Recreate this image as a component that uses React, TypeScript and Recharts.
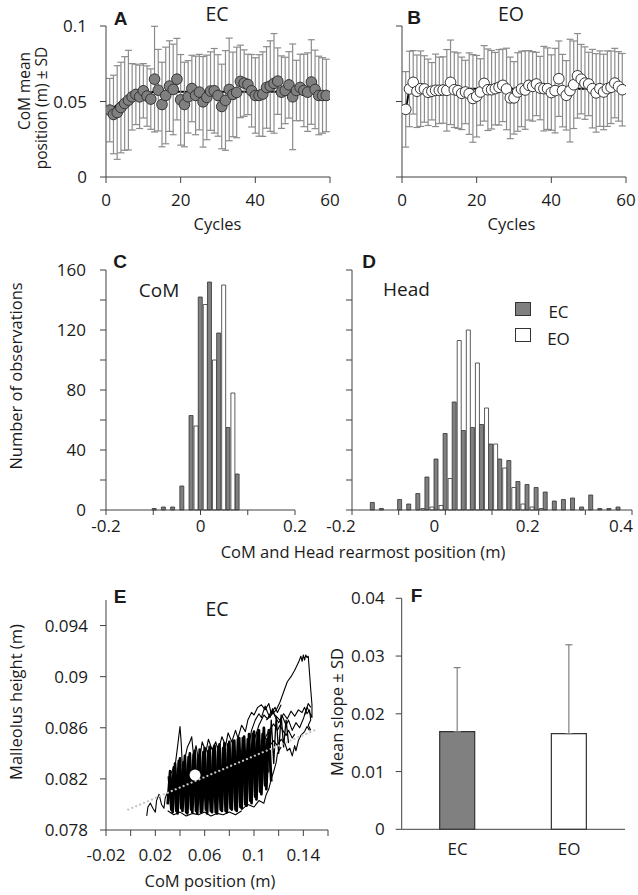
import React from "react";
import {
  ComposedChart,
  ScatterChart,
  BarChart,
  Bar,
  Line,
  Scatter,
  XAxis,
  YAxis,
  ErrorBar,
  Cell,
} from "recharts";

const FONT = "'Open Sans', sans-serif";
const BOLD = "'Liberation Sans', Arial, sans-serif";
const AX = "#404040";
const TXT = "#1a1a1a";

// ---- panels A / B : CoM mean position per cycle ----
const cycles = [
  1, 2, 3, 4, 5, 6, 7, 8, 9, 10, 11, 12, 13, 14, 15, 16, 17, 18, 19, 20,
  21, 22, 23, 24, 25, 26, 27, 28, 29, 30, 31, 32, 33, 34, 35, 36, 37, 38, 39, 40,
  41, 42, 43, 44, 45, 46, 47, 48, 49, 50, 51, 52, 53, 54, 55, 56, 57, 58, 59,
];
const ecMean = [
  0.0443, 0.0414, 0.0427, 0.046, 0.0487, 0.0509, 0.0531, 0.0547, 0.0531, 0.0571,
  0.0536, 0.0516, 0.0648, 0.0575, 0.048, 0.054, 0.0602, 0.058, 0.0648, 0.0511,
  0.048, 0.0531, 0.0586, 0.054, 0.0562, 0.0498, 0.0527, 0.0569, 0.0571, 0.054,
  0.0467, 0.0507, 0.058, 0.0547, 0.056, 0.0633, 0.0622, 0.0613, 0.0571, 0.054,
  0.054, 0.0549, 0.0593, 0.0602, 0.062, 0.0635, 0.0562, 0.0573, 0.061, 0.0531,
  0.0573, 0.0593, 0.0573, 0.0562, 0.0629, 0.058, 0.054, 0.054, 0.054,
];
const ecSd = [
  0.021, 0.026, 0.031, 0.03, 0.031, 0.033, 0.022, 0.02, 0.021, 0.018,
  0.02, 0.02, 0.035, 0.027, 0.028, 0.032, 0.03, 0.03, 0.027, 0.03,
  0.028, 0.024, 0.022, 0.026, 0.025, 0.03, 0.028, 0.026, 0.028, 0.027,
  0.028, 0.033, 0.034, 0.028, 0.03, 0.024, 0.022, 0.02, 0.024, 0.025,
  0.027, 0.028, 0.027, 0.03, 0.033, 0.022, 0.024, 0.022, 0.022, 0.035,
  0.02, 0.022, 0.024, 0.026, 0.028, 0.026, 0.026, 0.025, 0.024,
];
const ecFit = [
  0.0425, 0.0455, 0.048, 0.05, 0.0517, 0.053, 0.054, 0.0547, 0.0553, 0.0557,
  0.056, 0.0562, 0.0564, 0.0564, 0.0564, 0.0564, 0.0564, 0.0564, 0.0564, 0.0564,
  0.0564, 0.0564, 0.0564, 0.0564, 0.0564, 0.0564, 0.0564, 0.0564, 0.0564, 0.0564,
  0.0564, 0.0564, 0.0564, 0.0564, 0.0564, 0.0564, 0.0564, 0.0564, 0.0564, 0.0564,
  0.0564, 0.0564, 0.0564, 0.0564, 0.0564, 0.0564, 0.0564, 0.0564, 0.0564, 0.0564,
  0.0564, 0.0564, 0.0564, 0.0564, 0.0564, 0.0564, 0.0564, 0.0564, 0.0564,
];
const eoMean = [
  0.0448, 0.0583, 0.0627, 0.0568, 0.0585, 0.0583, 0.0561, 0.0568, 0.0574, 0.0574,
  0.0576, 0.0574, 0.0627, 0.0578, 0.0572, 0.0554, 0.0563, 0.0552, 0.052, 0.0535,
  0.0563, 0.062, 0.0578, 0.0578, 0.0585, 0.0594, 0.0607, 0.0583, 0.0524, 0.0524,
  0.0563, 0.0583, 0.0576, 0.0607, 0.06, 0.0616, 0.0589, 0.0585, 0.0585, 0.0559,
  0.0572, 0.0651, 0.0572, 0.0541, 0.0572, 0.0611, 0.067, 0.0648, 0.0622, 0.0616,
  0.0585, 0.0557, 0.0585, 0.0563, 0.0585, 0.0594, 0.0622, 0.06, 0.0578,
];
const eoSd = [
  0.025, 0.025, 0.021, 0.024, 0.025, 0.022, 0.022, 0.019, 0.024, 0.022,
  0.022, 0.027, 0.028, 0.025, 0.025, 0.024, 0.021, 0.027, 0.029, 0.027,
  0.022, 0.025, 0.027, 0.026, 0.024, 0.025, 0.024, 0.027, 0.027, 0.024,
  0.026, 0.025, 0.026, 0.023, 0.023, 0.021, 0.021, 0.028, 0.027, 0.025,
  0.028, 0.025, 0.024, 0.023, 0.034, 0.029, 0.028, 0.023, 0.024, 0.021,
  0.026, 0.026, 0.025, 0.025, 0.025, 0.024, 0.023, 0.023, 0.024,
];
const eoFit = [
  0.0448, 0.0583, 0.0585, 0.0585, 0.0585, 0.0585, 0.0585, 0.0585, 0.0585, 0.0585,
  0.0585, 0.0585, 0.0585, 0.0585, 0.0585, 0.0585, 0.0585, 0.0585, 0.0585, 0.0585,
  0.0585, 0.0585, 0.0585, 0.0585, 0.0585, 0.0585, 0.0585, 0.0585, 0.0585, 0.0585,
  0.0585, 0.0585, 0.0585, 0.0585, 0.0585, 0.0585, 0.0585, 0.0585, 0.0585, 0.0585,
  0.0585, 0.0585, 0.0585, 0.0585, 0.0585, 0.0585, 0.0585, 0.0585, 0.0585, 0.0585,
  0.0585, 0.0585, 0.0585, 0.0585, 0.0585, 0.0585, 0.0585, 0.0585, 0.0585,
];
const cycleTicks = [0, 20, 40, 60];
const posTicks = [0, 0.05, 0.1];

// ---- panels C / D : histograms of rearmost position ----
const comBins = [-0.0925, -0.073, -0.0535, -0.034, -0.0145, 0.005, 0.0245, 0.044, 0.0635, 0.083];
const comEC = [1, 2, 2, 16, 63, 142, 152, 118, 55, 24];
const comEO = [0, 0, 0, 0, 56, 137, 100, 150, 78, 0];

const headBins = [
  -0.151, -0.1315, -0.112, -0.0925, -0.073, -0.0535, -0.034, -0.0145, 0.005, 0.0245,
  0.044, 0.0635, 0.083, 0.1025, 0.122, 0.1415, 0.161, 0.1805, 0.2, 0.2195,
  0.239, 0.2585, 0.278, 0.2975, 0.317, 0.3365, 0.356, 0.3755,
];
const headEC = [5, 1, 0, 7, 4, 11, 22, 34, 51, 72, 53, 55, 57, 44, 34, 33, 19, 17, 15, 12, 6, 7, 8, 2, 10, 1, 1, 2];
const headEO = [0, 0, 0, 0, 0, 1, 2, 3, 21, 113, 120, 98, 68, 44, 28, 15, 4, 2, 1, 0, 0, 0, 0, 0, 0, 0, 0, 0];

const countTicks = [0, 20, 40, 60, 80, 100, 120, 140, 160];
const comTicks = [-0.2, -0.1, 0, 0.1, 0.2];
const headTicks = [-0.2, -0.1, 0, 0.1, 0.2, 0.3, 0.4];
const histLabels = [-0.2, 0, 0.2, 0.4];

// ---- panel E : malleolus height vs CoM position (EC) ----
const trajCore = [
  [0.03, 0.08], [0.032, 0.0826], [0.034, 0.0794], [0.036, 0.0832], [0.038, 0.0793],
  [0.04, 0.0836], [0.042, 0.0795], [0.044, 0.0838], [0.046, 0.0793], [0.048, 0.084],
  [0.05, 0.0794], [0.052, 0.0842], [0.054, 0.0793], [0.056, 0.0843], [0.058, 0.0795],
  [0.06, 0.0844], [0.062, 0.0793], [0.064, 0.0845], [0.066, 0.0794], [0.068, 0.0846],
  [0.07, 0.0793], [0.072, 0.0847], [0.074, 0.0795], [0.076, 0.0848], [0.078, 0.0794],
  [0.08, 0.0849], [0.082, 0.0796], [0.084, 0.085], [0.086, 0.0795], [0.088, 0.0852],
  [0.09, 0.0797], [0.092, 0.0853], [0.094, 0.0799], [0.096, 0.0855], [0.098, 0.0801],
  [0.1, 0.0857], [0.102, 0.0804], [0.104, 0.0858], [0.106, 0.0808], [0.108, 0.086],
  [0.11, 0.0812], [0.112, 0.0858], [0.114, 0.0818],
];
const trajCore2 = [
  [0.031, 0.0822], [0.033, 0.0796], [0.035, 0.0829], [0.037, 0.0795], [0.039, 0.0834],
  [0.041, 0.0797], [0.043, 0.0833], [0.045, 0.0794], [0.047, 0.0837], [0.049, 0.0796],
  [0.051, 0.0839], [0.053, 0.0795], [0.055, 0.0838], [0.057, 0.0794], [0.059, 0.0841],
  [0.061, 0.0796], [0.063, 0.0842], [0.065, 0.0795], [0.067, 0.0843], [0.069, 0.0794],
  [0.071, 0.0845], [0.073, 0.0796], [0.075, 0.0844], [0.077, 0.0795], [0.079, 0.0847],
  [0.081, 0.0797], [0.083, 0.0849], [0.085, 0.0796], [0.087, 0.0851], [0.089, 0.0798],
  [0.091, 0.0852], [0.093, 0.08], [0.095, 0.0851], [0.097, 0.0803], [0.099, 0.0855],
  [0.101, 0.0806], [0.103, 0.0856], [0.105, 0.081], [0.107, 0.0855], [0.109, 0.0815],
  [0.111, 0.0852],
];
const trajCore3 = [
  [0.112, 0.0825], [0.114, 0.0866], [0.116, 0.0832], [0.118, 0.0869], [0.12, 0.084],
  [0.122, 0.087], [0.124, 0.0845], [0.126, 0.0866], [0.128, 0.0848],
];
const trajLowLeft = [
  [0.013, 0.0791], [0.014, 0.0798], [0.016, 0.0801], [0.018, 0.0797], [0.02, 0.0794],
  [0.021, 0.0803], [0.023, 0.0808], [0.025, 0.08], [0.027, 0.0797], [0.028, 0.0805],
  [0.031, 0.0812], [0.033, 0.0818], [0.032, 0.0823], [0.035, 0.0829],
];
const trajSpikes = [
  [0.034, 0.0812], [0.036, 0.083], [0.038, 0.0845], [0.04, 0.0861], [0.041, 0.0848],
  [0.042, 0.0828], [0.044, 0.0836], [0.046, 0.0845], [0.048, 0.0849], [0.0495, 0.0853],
  [0.051, 0.0838], [0.053, 0.0846], [0.055, 0.0835],
];
const trajUpper = [
  [0.056, 0.0836], [0.058, 0.0849], [0.061, 0.0841], [0.063, 0.0851], [0.066, 0.0843],
  [0.069, 0.0849], [0.071, 0.0842], [0.074, 0.0853], [0.077, 0.0846], [0.079, 0.0856],
  [0.082, 0.0849], [0.085, 0.0858], [0.087, 0.0852], [0.09, 0.0862], [0.093, 0.0857],
  [0.095, 0.0866], [0.098, 0.0872], [0.1, 0.087], [0.103, 0.0876], [0.106, 0.0878],
  [0.109, 0.0874], [0.112, 0.0879], [0.114, 0.0871], [0.117, 0.0876], [0.119, 0.0872],
  [0.122, 0.0878],
];
const trajTopArm = [
  [0.11, 0.0866], [0.114, 0.087], [0.118, 0.0874], [0.121, 0.088], [0.124, 0.0888],
  [0.127, 0.0896], [0.13, 0.09], [0.133, 0.0905], [0.136, 0.0911], [0.138, 0.0916],
  [0.139, 0.0912], [0.14, 0.0917], [0.141, 0.0913], [0.142, 0.0917], [0.143, 0.0915],
  [0.144, 0.0916], [0.145, 0.0903], [0.146, 0.089], [0.147, 0.0878], [0.147, 0.0868],
  [0.145, 0.0872], [0.143, 0.0876], [0.141, 0.087],
];
const trajRightMid = [
  [0.1, 0.085], [0.104, 0.0862], [0.108, 0.087], [0.111, 0.0867], [0.114, 0.0873],
  [0.118, 0.0869], [0.121, 0.0866], [0.124, 0.0871], [0.127, 0.0867], [0.13, 0.0873],
  [0.133, 0.0869], [0.136, 0.0874], [0.139, 0.0872], [0.141, 0.0876], [0.143, 0.0871],
  [0.145, 0.0874], [0.146, 0.0866], [0.144, 0.0862], [0.146, 0.0858],
];
const trajRight3 = [
  [0.095, 0.0842], [0.098, 0.0858], [0.101, 0.0866], [0.104, 0.0871], [0.106, 0.0868],
  [0.109, 0.0877], [0.111, 0.0872], [0.113, 0.0868], [0.115, 0.0875], [0.117, 0.0869],
  [0.12, 0.0864], [0.123, 0.0869], [0.126, 0.0862], [0.128, 0.0866], [0.131, 0.0858],
  [0.134, 0.0864], [0.137, 0.086], [0.14, 0.0867], [0.142, 0.0873], [0.144, 0.0879],
  [0.146, 0.0876],
];
const trajRight4 = [
  [0.1, 0.0828], [0.104, 0.0838], [0.107, 0.0846], [0.11, 0.0854], [0.113, 0.0859],
  [0.116, 0.0863], [0.119, 0.0858], [0.121, 0.0862], [0.124, 0.0857], [0.126, 0.0854],
  [0.128, 0.0858], [0.131, 0.0852], [0.133, 0.0855],
];
const trajRightLow = [
  [0.108, 0.0835], [0.112, 0.0845], [0.116, 0.085], [0.119, 0.0846], [0.122, 0.0851],
  [0.125, 0.0848], [0.127, 0.0842], [0.129, 0.0844], [0.131, 0.0838], [0.133, 0.0846],
  [0.134, 0.0842], [0.136, 0.085], [0.138, 0.0854], [0.141, 0.0857], [0.143, 0.0861],
  [0.145, 0.0858],
];
const trajLowRight = [
  [0.09, 0.0796], [0.095, 0.08], [0.1, 0.0798], [0.104, 0.0803], [0.108, 0.0801],
  [0.11, 0.0808], [0.112, 0.0812], [0.114, 0.082], [0.116, 0.0826], [0.118, 0.0833],
  [0.119, 0.084], [0.122, 0.0845],
];
const trajBottom = [
  [0.03, 0.0795], [0.035, 0.0792], [0.04, 0.0794], [0.045, 0.0791], [0.05, 0.0793],
  [0.055, 0.0792], [0.06, 0.0794], [0.065, 0.0791], [0.07, 0.0793], [0.075, 0.0792],
  [0.08, 0.0794], [0.085, 0.0792], [0.09, 0.0795],
];
const regX = [-0.002, 0.149];
const regY = [0.0796, 0.0858];
const meanPoint = [[0.0522, 0.0823]];
const comPosTicks = [-0.02, 0, 0.02, 0.04, 0.06, 0.08, 0.1, 0.12, 0.14, 0.16];
const comPosLabels = [-0.02, 0.02, 0.06, 0.1, 0.14];
const heightTicks = [0.078, 0.082, 0.086, 0.09, 0.094];

// ---- panel F : mean slope ----
const groups = ["EC", "EO"];
const slopeMean = [0.0169, 0.01655];
const slopeSd = [0.0111, 0.0154];
const groupFill = ["#808080", "#ffffff"];
const slopeTicks = [0, 0.01, 0.02, 0.03, 0.04];

const tickStyle = { fontSize: 17, fill: TXT, fontFamily: FONT };

const pts = (arr: number[][]) => arr.map(([x, y]) => ({ x, y }));
const noShape = () => <g />;

const dotShape = (fill: string) => (p: any) => (
  <circle cx={p.cx} cy={p.cy} r={5.3} fill={fill} stroke="#333" strokeWidth={1} />
);

function Txt({ x, y, size, bold, rotate, children }: any) {
  return (
    <div
      style={{
        position: "absolute",
        left: x,
        top: y,
        transform: `translate(-50%, -50%)${rotate ? " rotate(-90deg)" : ""}`,
        fontSize: size,
        fontWeight: bold ? 700 : 400,
        fontFamily: bold ? BOLD : FONT,
        color: TXT,
        whiteSpace: "nowrap",
        lineHeight: 1,
      }}
    >
      {children}
    </div>
  );
}

const HeadTick = (props: any) => {
  const { x, y, payload } = props;
  if (!histLabels.includes(payload.value)) return null;
  return (
    <text x={x - 11} y={y} dy="0.71em" textAnchor="middle" {...tickStyle}>
      {payload.value}
    </text>
  );
};

function CyclePanel({ data, fill, showLabels }: any) {
  return (
    <ComposedChart width={340} height={215} data={data} margin={{ top: 26, right: 10, bottom: 0, left: 0 }}>
      <XAxis
        type="number"
        dataKey="c"
        domain={[0, 60]}
        ticks={cycleTicks}
        interval={0}
        height={38}
        tickSize={6}
        tickMargin={11}
        stroke={AX}
        tick={tickStyle}
        allowDataOverflow
      />
      <YAxis
        type="number"
        domain={[0, 0.1]}
        ticks={posTicks}
        interval={0}
        width={106}
        tickSize={6}
        tickMargin={13}
        stroke={AX}
        tick={tickStyle}
        tickFormatter={showLabels ? undefined : () => ""}
        allowDataOverflow
      />
      <Line dataKey="fit" stroke="#000" strokeWidth={2} dot={false} isAnimationActive={false} />
      <Scatter dataKey="m" shape={dotShape(fill)} isAnimationActive={false}>
        <ErrorBar dataKey="sd" direction="y" width={3.5} stroke="#8c8c8c" strokeWidth={1.2} />
      </Scatter>
    </ComposedChart>
  );
}

function Trajectory({ data, width = 1.1 }: any) {
  return (
    <Scatter
      data={pts(data)}
      shape={noShape}
      line={{ stroke: "#000", strokeWidth: width, strokeLinejoin: "round" }}
      isAnimationActive={false}
    />
  );
}

export default function App() {
  const aData = cycles.map((c, i) => ({ c, m: ecMean[i], sd: ecSd[i], fit: ecFit[i] }));
  const bData = cycles.map((c, i) => ({ c, m: eoMean[i], sd: eoSd[i], fit: eoFit[i] }));
  const cData = comBins.map((x, i) => ({ x, ec: comEC[i], eo: comEO[i] }));
  const dData = headBins.map((x, i) => ({ x, ec: headEC[i], eo: headEO[i] }));
  const regData = regX.map((x, i) => ({ x, y: regY[i] }));
  const fData = groups.map((g, i) => ({ g, m: slopeMean[i], err: [0, slopeSd[i]] }));

  const histBars = [
    <Bar key="ec" dataKey="ec" fill="#808080" stroke="#333" strokeWidth={0.8} barSize={4} isAnimationActive={false} />,
    <Bar key="eo" dataKey="eo" fill="#ffffff" stroke="#333" strokeWidth={0.8} barSize={4} isAnimationActive={false} />,
  ];

  return (
    <div
      style={{
        position: "absolute",
        left: 0,
        top: 0,
        width: 638,
        height: 895,
        overflow: "hidden",
        background: "#fff",
        fontFamily: FONT,
      }}
    >
      {/* A */}
      <div style={{ position: "absolute", left: 0, top: 0 }}>
        <CyclePanel data={aData} fill="#808080" showLabels />
      </div>
      {/* B */}
      <div style={{ position: "absolute", left: 296, top: 0 }}>
        <CyclePanel data={bData} fill="#ffffff" showLabels={false} />
      </div>

      {/* C */}
      <div style={{ position: "absolute", left: 0, top: 250 }}>
        <BarChart width={320} height={290} data={cData} barGap={1} margin={{ top: 20, right: 25, bottom: 0, left: 0 }}>
          <XAxis
            type="number"
            dataKey="x"
            domain={[-0.2, 0.2]}
            ticks={comTicks}
            interval={0}
            height={30}
            tickSize={5}
            tickMargin={5}
            stroke={AX}
            tick={tickStyle}
            tickFormatter={(v: number) => (histLabels.includes(v) ? String(v) : "")}
            allowDataOverflow
          />
          <YAxis
            type="number"
            domain={[0, 160]}
            ticks={countTicks}
            interval={0}
            width={106}
            tickSize={6}
            tickMargin={14}
            stroke={AX}
            tick={tickStyle}
            tickFormatter={(v: number) => (v % 40 === 0 ? String(v) : "")}
          />
          {histBars}
        </BarChart>
      </div>

      {/* D */}
      <div style={{ position: "absolute", left: 300, top: 250 }}>
        <BarChart width={340} height={290} data={dData} barGap={1} margin={{ top: 20, right: 8, bottom: 0, left: 0 }}>
          <XAxis
            type="number"
            dataKey="x"
            domain={[-0.2, 0.4]}
            ticks={headTicks}
            interval={0}
            height={30}
            tickSize={5}
            tickMargin={5}
            stroke={AX}
            tick={<HeadTick />}
            allowDataOverflow
          />
          <YAxis
            type="number"
            domain={[0, 160]}
            ticks={countTicks}
            interval={0}
            width={52}
            tickSize={6}
            stroke={AX}
            tickFormatter={() => ""}
          />
          {histBars}
        </BarChart>
      </div>

      {/* E */}
      <div style={{ position: "absolute", left: 0, top: 580 }}>
        <ScatterChart width={340} height={290} margin={{ top: 20, right: 12, bottom: 0, left: 0 }}>
          <XAxis
            type="number"
            dataKey="x"
            domain={[-0.02, 0.16]}
            ticks={comPosTicks}
            interval={0}
            height={40}
            tickSize={6}
            tickMargin={13}
            stroke={AX}
            tick={tickStyle}
            tickFormatter={(v: number) => (comPosLabels.includes(v) ? String(v) : "")}
            allowDataOverflow
          />
          <YAxis
            type="number"
            dataKey="y"
            domain={[0.078, 0.096]}
            ticks={heightTicks}
            interval={0}
            width={106}
            tickSize={6}
            tickMargin={12}
            stroke={AX}
            tick={tickStyle}
            allowDataOverflow
          />
          <Trajectory data={trajCore} width={2.7} />
          <Trajectory data={trajCore2} width={2.7} />
          <Trajectory data={trajCore3} width={1.3} />
          <Trajectory data={trajBottom} />
          <Trajectory data={trajLowLeft} />
          <Trajectory data={trajSpikes} />
          <Trajectory data={trajUpper} />
          <Trajectory data={trajTopArm} />
          <Trajectory data={trajRightMid} />
          <Trajectory data={trajRight3} />
          <Trajectory data={trajRight4} />
          <Trajectory data={trajRightLow} />
          <Trajectory data={trajLowRight} />
          <Scatter
            data={regData}
            shape={noShape}
            line={{ stroke: "#c4c4c4", strokeWidth: 2.2, strokeDasharray: "0.1 4.2", strokeLinecap: "round" }}
            isAnimationActive={false}
          />
          <Scatter
            data={pts(meanPoint)}
            shape={(p: any) => <circle cx={p.cx} cy={p.cy} r={5.5} fill="#fff" />}
            isAnimationActive={false}
          />
        </ScatterChart>
      </div>

      {/* F */}
      <div style={{ position: "absolute", left: 340, top: 578 }}>
        <BarChart width={300} height={300} data={fData} margin={{ top: 20.3, right: 15, bottom: 0, left: 0 }}>
          <XAxis dataKey="g" height={48.7} tickLine={false} tickSize={0} tickMargin={14} stroke={AX} tick={tickStyle} />
          <YAxis
            type="number"
            domain={[0, 0.04]}
            ticks={slopeTicks}
            interval={0}
            width={61.7}
            tickSize={6}
            tickMargin={11}
            stroke={AX}
            tick={tickStyle}
          />
          <Bar dataKey="m" barSize={35} stroke="#333" strokeWidth={1.2} isAnimationActive={false}>
            {fData.map((d, i) => (
              <Cell key={d.g} fill={groupFill[i]} />
            ))}
            <ErrorBar dataKey="err" direction="y" width={3.5} stroke="#808080" strokeWidth={1.2} />
          </Bar>
        </BarChart>
      </div>

      {/* panel letters and titles */}
      <Txt x={120.5} y={18} size={19} bold>A</Txt>
      <Txt x={217} y={14} size={19.5}>EC</Txt>
      <Txt x={414} y={17} size={19} bold>B</Txt>
      <Txt x={511} y={14} size={19.5}>EO</Txt>
      <Txt x={25} y={91} size={15.5} rotate>CoM mean</Txt>
      <Txt x={42} y={108} size={15.5} rotate>position (m) ± SD</Txt>
      <Txt x={217.5} y={224} size={16.5}>Cycles</Txt>
      <Txt x={511.5} y={224} size={16.5}>Cycles</Txt>

      <Txt x={120} y={261} size={19} bold>C</Txt>
      <Txt x={159} y={290} size={19}>CoM</Txt>
      <Txt x={369} y={260.5} size={19} bold>D</Txt>
      <Txt x={406.5} y={288.5} size={19}>Head</Txt>
      <Txt x={16} y={376} size={16.5} rotate>Number of observations</Txt>
      <Txt x={363} y={551.5} size={16.5}>CoM and Head rearmost position (m)</Txt>

      {/* legend of D */}
      <div style={{ position: "absolute", left: 514.5, top: 301.5, width: 14, height: 12, background: "#808080", border: "1.2px solid #333" }} />
      <div style={{ position: "absolute", left: 514.5, top: 328, width: 14, height: 12, background: "#fff", border: "1.2px solid #333" }} />
      <Txt x={558.5} y={311} size={17}>EC</Txt>
      <Txt x={558.5} y={337.5} size={17}>EO</Txt>

      <Txt x={120} y={596} size={19} bold>E</Txt>
      <Txt x={217} y={609} size={19.5}>EC</Txt>
      <Txt x={16} y={702} size={16.5} rotate>Malleolus height (m)</Txt>
      <Txt x={210} y={880.5} size={16.5}>CoM position (m)</Txt>

      <Txt x={416.5} y={594.5} size={19} bold>F</Txt>
      <Txt x={337} y={712} size={16.5} rotate>Mean slope ± SD</Txt>
    </div>
  );
}
